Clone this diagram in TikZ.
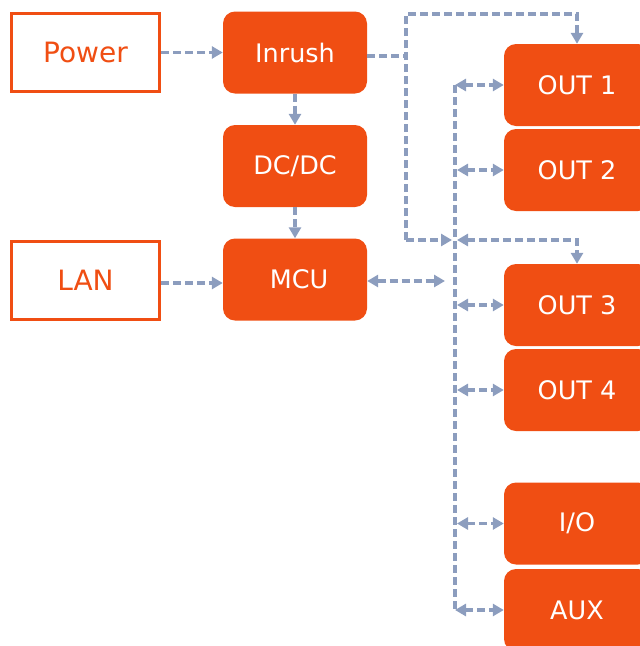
\documentclass[tikz,border=0pt]{standalone}
\usepackage{fontspec}
\setmainfont{DejaVu Sans}
\usetikzlibrary{arrows.meta}
\definecolor{org}{HTML}{F04E13}
\definecolor{lnk}{HTML}{8C9DBE}
\tikzset{
  solidbox/.style={fill=org, draw=none, rounded corners=12pt, minimum width=144pt, minimum height=82pt, text=white, font=\fontsize{25.5}{30}\selectfont, inner sep=0pt},
  outbox/.style={solidbox, minimum width=146pt},
  framebox/.style={draw=org, line width=3pt, fill=white, minimum width=148pt, minimum height=78pt, text=org, font=\fontsize{28}{33}\selectfont, inner sep=0pt},
  link/.style={draw=lnk, line width=3.2pt, dash pattern=on 8pt off 4pt},
  tip/.tip={Triangle[length=11pt,width=12pt]},
  ar/.style={link, -{tip}},
  dar/.style={link, {tip}-{tip}}
}
\begin{document}
\begin{tikzpicture}[x=1pt,y=-1pt]
\useasboundingbox (0,0) rectangle (640,646);
\clip (0,0) rectangle (640,646);
\node[framebox] (power) at (85.5,52.5) {Power};
\node[framebox] (lan) at (85.5,280) {LAN};
\node[solidbox] (inrush) at (295,52.5) {Inrush};
\node[solidbox] (dcdc) at (295,166) {DC/DC};
\node[solidbox] (mcu) at (295,279.5) {\hspace{8pt}MCU};
\node[outbox] (out1) at (577,85) {OUT 1};
\node[outbox] (out2) at (577,170) {OUT 2};
\node[outbox] (out3) at (577,305) {OUT 3};
\node[outbox] (out4) at (577,390) {OUT 4};
\node[outbox] (io) at (577,523.5) {I/O};
\node[outbox] (aux) at (577,610) {AUX};
\coordinate (j1) at (406,56);
\coordinate (topL) at (406,14);
\coordinate (botL) at (406,240);
\coordinate (busTop) at (455,85);
\coordinate (busBot) at (455,610);
\coordinate (busIn) at (452,240);
\coordinate (busOut) at (457,240);
\coordinate (mcuEnd) at (445,281);
% left column
\draw[ar] (power.east) -- (inrush.west);
\draw[ar] (inrush.south) -- (dcdc.north);
\draw[ar] (dcdc.south) -- (mcu.north);
\draw[ar] (lan.east |- 0,283) -- (mcu.west |- 0,283);
% inrush feed
\draw[link] (inrush.east |- j1) -- (j1);
\draw[ar] (botL) -- (topL) -| (out1.north);
\draw[ar] (botL) -- (busIn);
% bus
\draw[link] (busTop) -- (busBot);
\draw[dar] (busOut) -| (out3.north);
\draw[dar] (mcu.east |- mcuEnd) -- (mcuEnd);
\draw[dar] (busTop) -- (out1.west);
\draw[dar] (457,170) -- (out2.west);
\draw[dar] (457,305) -- (out3.west);
\draw[dar] (457,390) -- (out4.west);
\draw[dar] (457,523.5) -- (io.west);
\draw[dar] (busBot) -- (aux.west);
\end{tikzpicture}
\end{document}
